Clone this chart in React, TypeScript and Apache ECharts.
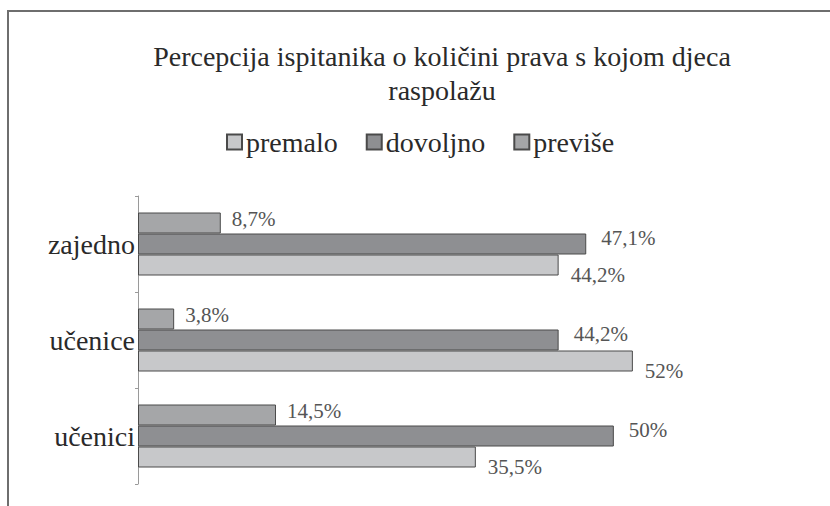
import React, { useEffect, useRef } from "react";
import * as echarts from "echarts";

const categories = ["učenici", "učenice", "zajedno"];
const seriesNames = ["premalo", "dovoljno", "previše"];
const premalo = [35.5, 52, 44.2];
const dovoljno = [50, 44.2, 47.1];
const previse = [14.5, 3.8, 8.7];

const FONT = "'Liberation Serif', 'DejaVu Serif', serif";

export default function App() {
  const ref = useRef<HTMLDivElement>(null);
  useEffect(() => {
    if (!ref.current) return;
    const chart = echarts.init(ref.current, null, { renderer: "svg" });
    const fmt = (p: any) => String(p.value).replace(".", ",") + "%";
    const mkLabel = (distance: number, offset: number[]) => ({
      show: true,
      position: "right",
      distance,
      offset,
      formatter: fmt,
      color: "#555",
      fontFamily: FONT,
      fontSize: 21,
    });
    const barBase = {
      type: "bar",
      barWidth: 21,
      barGap: "0%",
    };
    chart.setOption({
      animation: false,
      backgroundColor: "#ffffff",
      textStyle: { fontFamily: FONT },
      title: {
        text: "Percepcija ispitanika o količini prava s kojom djeca\nraspolažu",
        left: 437,
        top: 34,
        textAlign: "center",
        textStyle: {
          fontFamily: FONT,
          fontSize: 28,
          fontWeight: "normal",
          color: "#2a2a2a",
          lineHeight: 34,
        },
      },
      legend: {
        left: 221,
        top: 123,
        itemWidth: 15,
        itemHeight: 15,
        itemGap: 28,
        icon: "rect",
        data: seriesNames,
        textStyle: { fontFamily: FONT, fontSize: 28, color: "#2a2a2a", padding: [0, 0, 0, -1] },
      },
      graphic: [
        {
          type: "rect",
          shape: { x: 8, y: 11, width: 900, height: 600 },
          style: { fill: "none", stroke: "#6e6e6e", lineWidth: 2 },
          silent: true,
        },
      ],
      grid: { left: 138, top: 196, width: 571, height: 288 },
      xAxis: {
        type: "value",
        min: 0,
        max: 60,
        show: false,
      },
      yAxis: {
        type: "category",
        data: categories,
        axisLine: { show: true, lineStyle: { color: "#9a9a9a", width: 1 } },
        axisTick: { show: true, length: 3, lineStyle: { color: "#9a9a9a" } },
        axisLabel: {
          fontFamily: FONT,
          fontSize: 28,
          color: "#2a2a2a",
          margin: 3,
        },
        splitLine: { show: false },
      },
      series: [
        {
          ...barBase,
          name: seriesNames[2],
          data: previse,
          itemStyle: { color: "#a5a6a8", borderColor: "#4a4a4a", borderWidth: 1 },
          label: mkLabel(11, [0, -4]),
        },
        {
          ...barBase,
          name: seriesNames[1],
          data: dovoljno,
          itemStyle: { color: "#8e8f92", borderColor: "#4a4a4a", borderWidth: 1 },
          label: mkLabel(15, [0, -6]),
        },
        {
          ...barBase,
          name: seriesNames[0],
          data: premalo,
          itemStyle: { color: "#c7c8ca", borderColor: "#4a4a4a", borderWidth: 1 },
          label: mkLabel(12, [0, 10]),
        },
      ],
    });
    return () => chart.dispose();
  }, []);
  return (
    <div
      ref={ref}
      style={{ position: "fixed", left: 0, top: 0, width: 830, height: 506, background: "#fff" }}
    />
  );
}
